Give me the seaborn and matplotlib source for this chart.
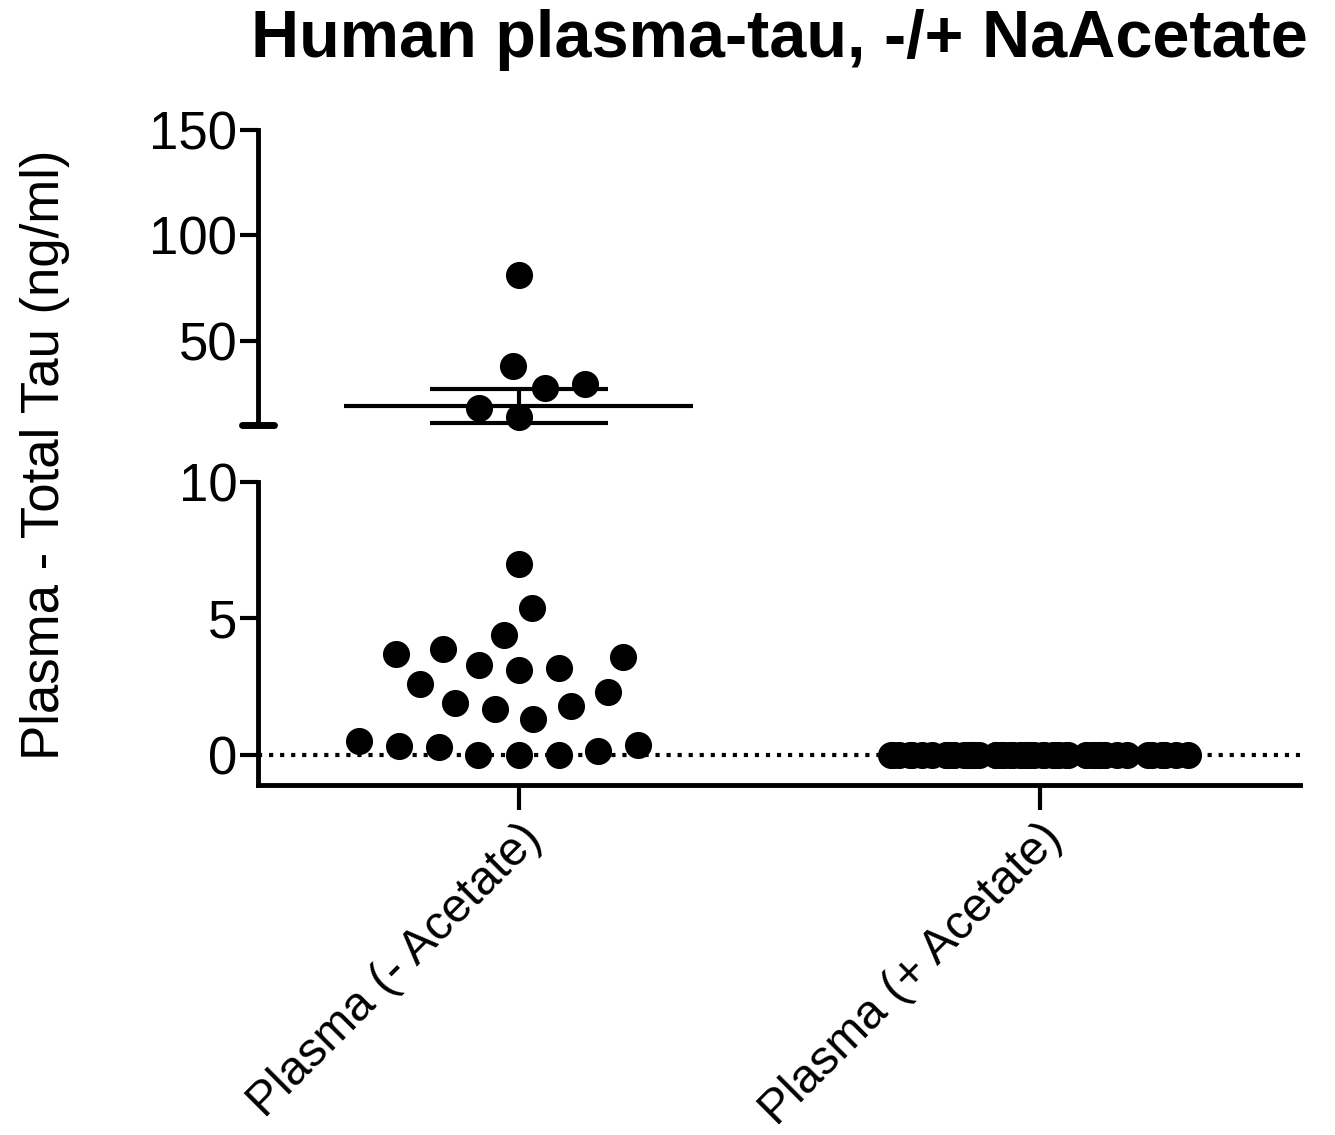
import numpy as np
import pandas as pd
import matplotlib
matplotlib.use("Agg")
import matplotlib.pyplot as plt
import seaborn as sns

# ---------------- data ----------------
categories = ["Plasma (- Acetate)", "Plasma (+ Acetate)"]
minus_acetate = [81, 38, 29.5, 27.5, 18, 14,
                 7.0, 5.4, 4.4, 3.9, 3.7, 3.6, 3.3, 3.2, 3.1, 2.6, 2.3,
                 1.9, 1.8, 1.7, 1.3, 0.5, 0.37, 0.33, 0.3, 0.15, 0.0, 0.0, 0.0]
plus_acetate = [0.0] * 60
mean_minus = 19.0
sem_minus = 8.0
break_value = 10
top_ticks = [50, 100, 150]
bottom_ticks = [0, 5, 10]
title = "Human plasma-tau, -/+ NaAcetate"
ylabel = "Plasma - Total Tau (ng/ml)"

df = pd.DataFrame({
    "group": [categories[0]] * len(minus_acetate) + [categories[1]] * len(plus_acetate),
    "value": minus_acetate + plus_acetate,
})

sns.set_style("ticks")
plt.rcParams["font.family"] = ["Liberation Sans", "DejaVu Sans"]
for k in ("axes.edgecolor", "xtick.color", "ytick.color", "text.color", "axes.labelcolor"):
    plt.rcParams[k] = "black"

W, H = 1335, 1135
fig = plt.figure(figsize=(W / 100, H / 100), dpi=100)
L, R = 258 / W, 1300 / W
ax_top = fig.add_axes([L, 1 - 425 / H, R - L, (425 - 130) / H])
ax_bot = fig.add_axes([L, 1 - 785 / H, R - L, (785 - 482) / H])

marker_size = 19.5
swarm_gap = 8   # invisible edge that spaces the swarm like the reference
clear_edge = (1, 1, 1, 0)

low = df[(df["group"] == categories[0]) & (df["value"] < break_value)]
high = df[(df["group"] == categories[0]) & (df["value"] >= break_value)]
plus = df[df["group"] == categories[1]]

# bottom panel
ax_bot.axhline(0, ls=":", lw=3, color="black", zorder=1)
sns.swarmplot(data=low, x="group", y="value", order=categories, color="black",
              size=marker_size, ax=ax_bot, zorder=3, linewidth=swarm_gap,
              edgecolor=clear_edge)
np.random.seed(3)
sns.stripplot(data=plus, x="group", y="value", order=categories, color="black",
              size=marker_size, jitter=0.30, ax=ax_bot, zorder=3, linewidth=0)
ax_bot.set_xlim(-0.5, 1.5)
ax_bot.set_ylim(-1.1, 10)
ax_bot.set_yticks(bottom_ticks)
ax_bot.set_xlabel("")
ax_bot.set_ylabel("")

# top panel
sns.swarmplot(data=high, x="group", y="value", order=categories, color="black",
              size=marker_size, ax=ax_top, zorder=3, linewidth=swarm_gap,
              edgecolor=clear_edge)
ax_top.hlines(mean_minus, -0.335, 0.335, color="black", lw=3, zorder=4)
ax_top.errorbar(0, mean_minus, yerr=sem_minus, fmt="none", ecolor="black",
                elinewidth=3, capsize=64, capthick=3, zorder=4)
ax_top.set_xlim(-0.5, 1.5)
ax_top.set_ylim(break_value, 150)
ax_top.set_yticks(top_ticks)
ax_top.set_xlabel("")
ax_top.set_ylabel("")
ax_top.set_xticks([])

for ax in (ax_top, ax_bot):
    for c in list(ax.collections):
        if len(c.get_offsets()) == 0 and c.__class__.__name__ == "PathCollection":
            c.remove()
        elif c.__class__.__name__ == "PathCollection":
            c.set_clip_on(False)

# break cap at bottom of top axis
ax_top.plot([-0.015, 0.015], [0, 0], transform=ax_top.transAxes, color="black",
            lw=5, solid_capstyle="round", clip_on=False)

for ax in (ax_top, ax_bot):
    for s in ("top", "right"):
        ax.spines[s].set_visible(False)
    ax.spines["left"].set_linewidth(3.5)
    ax.spines["bottom"].set_linewidth(3.5)
    ax.tick_params(axis="y", labelsize=38, length=13, width=3, pad=2, direction="out")
    ax.set_facecolor("none")
ax_top.spines["bottom"].set_visible(False)

ax_bot.tick_params(axis="x", length=18, width=3, pad=4, direction="out")
ax_bot.set_xticks(range(len(categories)))
ax_bot.set_xticklabels(categories, rotation=45, ha="right", rotation_mode="anchor",
                       fontsize=34.5)

fig.text(45 / W, 1 - 455 / H, ylabel, rotation=90, ha="center", va="center", fontsize=38)
fig.text(779 / W, 1 - 40 / H, title, ha="center", va="center", fontsize=48,
         fontweight="bold")

fig.savefig("out.png", dpi=100)
